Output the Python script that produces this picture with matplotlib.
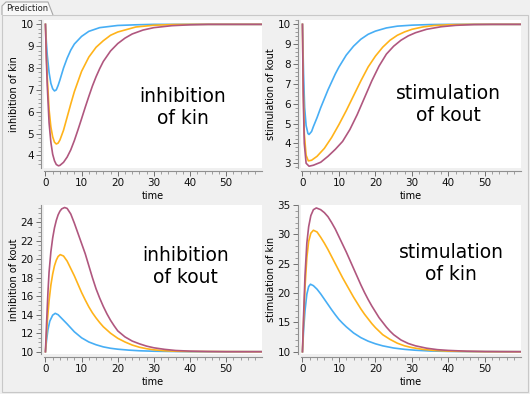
import numpy as np
import matplotlib
matplotlib.use("Agg")
import matplotlib.pyplot as plt
from matplotlib.ticker import AutoMinorLocator, MultipleLocator
from matplotlib.patches import Rectangle, Polygon

# colours of the three dose levels
c_low = '#47aef5'
c_mid = '#ffb31a'
c_high = '#b0577f'

# ---- inhibition of kin
t_ik_low = [0, 0.25, 0.5, 1, 1.5, 2, 2.5, 3, 3.5, 4, 5, 6, 7, 8, 10, 12, 15, 20, 25, 30, 60]
y_ik_low = [10, 9.2, 8.6, 7.8, 7.3, 7.05, 6.95, 7.0, 7.2, 7.45, 8.0, 8.45, 8.82, 9.1, 9.45, 9.68, 9.85, 9.95, 9.98, 10, 10]
t_ik_mid = [0, 0.25, 0.5, 1, 1.5, 2, 2.5, 3, 3.5, 4, 5, 6, 7, 8, 10, 12, 14, 16, 18, 20, 25, 30, 35, 40, 60]
y_ik_mid = [10, 8.6, 7.6, 6.1, 5.3, 4.85, 4.6, 4.52, 4.56, 4.7, 5.15, 5.75, 6.35, 6.92, 7.85, 8.5, 8.95, 9.25, 9.5, 9.65, 9.88, 9.96, 9.99, 10, 10]
t_ik_high = [0, 0.25, 0.5, 1, 1.5, 2, 2.5, 3, 3.6, 4, 5, 6, 7, 8, 9, 10, 11, 12, 13, 14, 15, 16, 18, 20, 22, 24, 27, 30, 35, 40, 45, 60]
y_ik_high = [10, 8.4, 7.2, 5.5, 4.6, 4.05, 3.75, 3.58, 3.52, 3.54, 3.68, 3.92, 4.25, 4.68, 5.17, 5.68, 6.2, 6.7, 7.18, 7.6, 7.97, 8.3, 8.78, 9.12, 9.37, 9.56, 9.74, 9.85, 9.94, 9.98, 10, 10]

# ---- stimulation of kout
t_sk_low = [0, 0.3, 0.6, 1, 1.5, 1.8, 2.5, 3, 4, 5, 6, 7, 8, 9, 10, 12, 14, 16, 18, 20, 23, 26, 30, 35, 40, 60]
y_sk_low = [10, 7.5, 5.8, 4.9, 4.5, 4.45, 4.6, 4.85, 5.3, 5.8, 6.25, 6.7, 7.1, 7.5, 7.85, 8.45, 8.9, 9.25, 9.5, 9.66, 9.82, 9.91, 9.96, 9.99, 10, 10]
t_sk_mid = [0, 0.2, 0.5, 1, 1.6, 2.5, 4, 6, 8, 10, 12, 14, 16, 18, 20, 22, 24, 26, 28, 30, 33, 36, 40, 45, 60]
y_sk_mid = [10, 7, 4.5, 3.4, 3.12, 3.15, 3.35, 3.75, 4.3, 4.95, 5.65, 6.4, 7.15, 7.85, 8.4, 8.85, 9.2, 9.45, 9.62, 9.75, 9.87, 9.94, 9.98, 10, 10]
t_sk_high = [0, 0.2, 0.5, 1, 1.8, 3, 5, 7, 9, 11, 13, 15, 17, 19, 21, 23, 25, 27, 29, 31, 34, 38, 42, 47, 52, 60]
y_sk_high = [10, 6.5, 4.0, 3.0, 2.85, 2.9, 3.05, 3.35, 3.7, 4.1, 4.7, 5.45, 6.3, 7.15, 7.9, 8.5, 8.9, 9.2, 9.42, 9.58, 9.75, 9.88, 9.95, 9.99, 10, 10]

# ---- inhibition of kout
t_iko_low = [0, 0.3, 0.7, 1.2, 2, 2.7, 3.5, 4.5, 6, 8, 10, 12, 14, 16, 18, 20, 23, 26, 30, 35, 40, 60]
y_iko_low = [10, 11.2, 12.4, 13.3, 13.95, 14.15, 14.0, 13.6, 13.0, 12.15, 11.5, 11.05, 10.75, 10.52, 10.37, 10.27, 10.17, 10.1, 10.05, 10.02, 10.0, 10]
t_iko_mid = [0, 0.5, 1, 1.5, 2, 2.5, 3, 3.5, 4.1, 5, 6, 7, 8, 9, 10, 11, 12, 13, 14, 15, 16, 18, 20, 22, 24, 26, 28, 30, 33, 36, 40, 60]
y_iko_mid = [10, 13.2, 15.5, 17.2, 18.4, 19.3, 19.9, 20.3, 20.5, 20.35, 19.8, 19.0, 18.2, 17.3, 16.4, 15.6, 14.85, 14.2, 13.65, 13.15, 12.7, 12.0, 11.45, 11.05, 10.72, 10.48, 10.32, 10.2, 10.1, 10.05, 10.02, 10]
t_iko_high = [0, 0.3, 0.7, 1, 1.5, 2, 2.5, 3, 3.5, 4, 4.5, 5.3, 6, 7, 8, 9, 10, 11, 12, 13, 14, 15, 16, 17, 18, 19, 20, 22, 24, 26, 28, 30, 33, 36, 40, 45, 50, 60]
y_iko_high = [10, 13, 16.5, 18.6, 20.8, 22.3, 23.4, 24.2, 24.8, 25.2, 25.45, 25.6, 25.5, 24.9, 23.9, 22.8, 21.7, 20.6, 19.3, 18.0, 16.8, 15.8, 14.9, 14.1, 13.4, 12.8, 12.25, 11.6, 11.15, 10.85, 10.6, 10.42, 10.25, 10.13, 10.06, 10.02, 10, 10]

# ---- stimulation of kin
t_ski_low = [0, 0.3, 0.7, 1.2, 1.7, 2.2, 3, 4, 5, 6, 7, 8, 9, 10, 11, 12, 14, 16, 18, 20, 22, 25, 28, 31, 35, 40, 45, 60]
y_ski_low = [10, 13.5, 17.0, 19.8, 21.1, 21.5, 21.25, 20.65, 19.85, 18.95, 18.05, 17.15, 16.3, 15.5, 14.85, 14.25, 13.2, 12.4, 11.8, 11.35, 11.0, 10.63, 10.4, 10.25, 10.12, 10.05, 10.02, 10]
t_ski_mid = [0, 0.3, 0.7, 1.2, 1.7, 2.3, 3, 4, 5, 6, 7, 8, 9, 10, 11, 12, 13, 14, 15, 16, 17, 18, 19, 20, 22, 24, 26, 28, 30, 33, 36, 40, 45, 50, 60]
y_ski_mid = [10, 15, 21, 26, 28.8, 30.2, 30.7, 30.4, 29.5, 28.5, 27.4, 26.2, 25.0, 23.8, 22.6, 21.5, 20.4, 19.3, 18.3, 17.3, 16.4, 15.6, 14.8, 14.1, 12.9, 12.1, 11.45, 11.0, 10.7, 10.4, 10.22, 10.1, 10.04, 10.01, 10]
t_ski_high = [0, 0.3, 0.7, 1.2, 1.7, 2.3, 3, 3.8, 5, 6, 7, 8, 9, 10, 11, 12, 13, 14, 15, 16, 17, 18, 19, 20, 21, 22, 23, 24, 25, 27, 29, 31, 34, 37, 40, 45, 50, 55, 60]
y_ski_high = [10, 16, 23, 28.5, 31.3, 33.2, 34.2, 34.5, 34.2, 33.7, 33.0, 32.0, 30.9, 29.6, 28.3, 27.0, 25.6, 24.2, 22.8, 21.4, 20.1, 18.9, 17.8, 16.8, 15.8, 15.0, 14.2, 13.5, 12.9, 12.0, 11.4, 11.0, 10.6, 10.35, 10.22, 10.09, 10.03, 10.01, 10]

W, H = 530, 394
fig = plt.figure(figsize=(W / 100, H / 100), dpi=100)
fig.patch.set_facecolor('#f0f0f0')

# window frame and "Prediction" tab (kept behind the axes)
fig.patches.append(Rectangle((2 / W, 2 / H), 526 / W, (392 - 15) / H, transform=fig.transFigure,
                             facecolor='#f0f0f0', edgecolor='#c8c8c8', lw=0.8, zorder=-5))
fig.patches.append(Polygon([(2 / W, (H - 15) / H), (2 / W, (H - 6) / H), (6 / W, (H - 2) / H),
                            (48 / W, (H - 2) / H), (53 / W, (H - 15) / H)], closed=False,
                           transform=fig.transFigure, facecolor='#f8f8f8', edgecolor='#a8a8a8',
                           lw=0.8, zorder=-4))
fig.text(27 / W, (H - 8.5) / H, 'Prediction', fontsize=6, ha='center', va='center', color='#222222')


def panel(px, py, pw, ph, curves, ylim, ystep, yminor, ylabel, title, tx, ty):
    ax = fig.add_axes([px / W, 1 - (py + ph) / H, pw / W, ph / H])
    ax.set_facecolor('white')
    for t, y, c in curves:
        ax.plot(t, y, color=c, lw=1.2)
    ax.set_xlim(-0.4, 59.9)
    ax.set_ylim(*ylim)
    ax.xaxis.set_major_locator(MultipleLocator(10))
    ax.xaxis.set_minor_locator(AutoMinorLocator(5))
    ax.yaxis.set_major_locator(MultipleLocator(ystep))
    ax.yaxis.set_minor_locator(AutoMinorLocator(yminor))
    for s in ['top', 'right']:
        ax.spines[s].set_visible(False)
    for s in ['left', 'bottom']:
        ax.spines[s].set_position(('outward', 2))
        ax.spines[s].set_color('#909090')
        ax.spines[s].set_linewidth(0.8)
    ax.tick_params(which='major', length=3.5, width=0.7, color='#707070', labelsize=7.5, pad=2,
                   labelcolor='#111111')
    ax.tick_params(which='minor', length=2, width=0.6, color='#909090')
    ax.set_xlabel('time', fontsize=7, labelpad=2)
    ax.set_ylabel(ylabel, fontsize=7, labelpad=1)
    ax.text(tx, ty, title, transform=ax.transAxes, fontsize=13.5, ha='center', va='center',
            linespacing=1.2)
    return ax


panel(44, 20, 218, 148,
      [(t_ik_low, y_ik_low, c_low), (t_ik_mid, y_ik_mid, c_mid), (t_ik_high, y_ik_high, c_high)],
      (3.42, 10.2), 1, 5, 'inhibition of kin', 'inhibition\nof kin', 0.638, 0.41)
panel(301, 20, 220, 148,
      [(t_sk_low, y_sk_low, c_low), (t_sk_mid, y_sk_mid, c_mid), (t_sk_high, y_sk_high, c_high)],
      (2.76, 10.22), 1, 5, 'stimulation of kout', 'stimulation\nof kout', 0.668, 0.43)
panel(44, 205, 218, 149,
      [(t_iko_low, y_iko_low, c_low), (t_iko_mid, y_iko_mid, c_mid), (t_iko_high, y_iko_high, c_high)],
      (9.75, 25.87), 2, 4, 'inhibition of kout', 'inhibition\nof kout', 0.651, 0.584)
panel(301, 205, 220, 149,
      [(t_ski_low, y_ski_low, c_low), (t_ski_mid, y_ski_mid, c_mid), (t_ski_high, y_ski_high, c_high)],
      (9.61, 35.0), 5, 5, 'stimulation of kin', 'stimulation\nof kin', 0.682, 0.61)

fig.savefig('out.png', dpi=100, facecolor=fig.get_facecolor())
